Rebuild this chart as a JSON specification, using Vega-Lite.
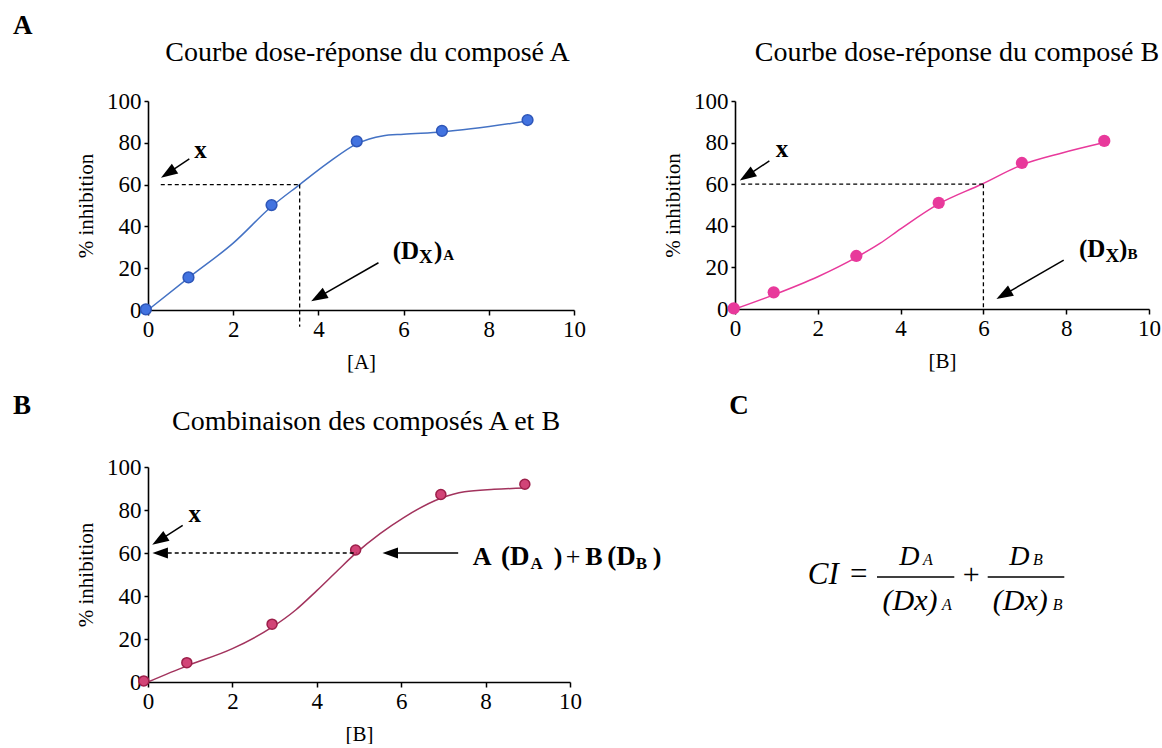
{
  "$schema": "https://vega.github.io/schema/vega-lite/v6.json",
  "background": "white",
  "padding": {"left": 12, "top": 12, "right": 0, "bottom": 0},
  "datasets": {
    "ptsA": [{"x":-0.05,"y":0.3},{"x":0.95,"y":15.6},{"x":2.9,"y":50.2},{"x":4.9,"y":80.7},{"x":6.9,"y":85.7},{"x":8.91,"y":90.9}],
    "curveA": [{"x":0,"y":0},{"x":0.95,"y":15.4},{"x":2,"y":32},{"x":2.9,"y":49.5},{"x":3.56,"y":60},{"x":4.2,"y":70},{"x":4.9,"y":79.5},{"x":5.5,"y":83.3},{"x":6,"y":84.1},{"x":6.9,"y":85.2},{"x":8.9,"y":90.4}],
    "ptsB": [{"x":-0.03,"y":0.3},{"x":0.935,"y":8},{"x":2.93,"y":25.5},{"x":4.92,"y":51},{"x":6.93,"y":70.2},{"x":8.92,"y":80.8}],
    "curveB": [{"x":0,"y":0},{"x":0.935,"y":6.8},{"x":2,"y":15.5},{"x":2.93,"y":24.8},{"x":3.5,"y":31.5},{"x":4,"y":38.5},{"x":4.92,"y":50.5},{"x":5.96,"y":60},{"x":6.93,"y":69.3},{"x":7.9,"y":75},{"x":8.92,"y":80}],
    "ptsC": [{"x":-0.1,"y":0.5},{"x":0.92,"y":9},{"x":2.94,"y":26.9},{"x":4.92,"y":61.4},{"x":6.94,"y":87.2},{"x":8.93,"y":92}],
    "curveC": [{"x":0,"y":0},{"x":0.92,"y":7.5},{"x":2,"y":15.5},{"x":2.94,"y":25.5},{"x":3.5,"y":33.5},{"x":4,"y":42.5},{"x":4.5,"y":52},{"x":4.92,"y":59.8},{"x":5.5,"y":69},{"x":6.06,"y":76.5},{"x":6.94,"y":85.5},{"x":7.5,"y":88.5},{"x":8.2,"y":89.6},{"x":8.93,"y":90.2}]
  },
  "config": {
    "view": {"stroke": null},
    "font": "Liberation Serif",
    "text": {"font": "Liberation Serif", "color": "black", "align": "left", "baseline": "alphabetic"},
    "axis": {"labelFont": "Liberation Serif", "labelFontSize": 23, "labelColor": "black", "titleFont": "Liberation Serif", "titleFontSize": 21, "titleFontWeight": "normal", "titleColor": "black", "domainColor": "black", "domainWidth": 1.6, "tickColor": "black", "tickWidth": 1.5, "grid": false},
    "axisX": {"tickSize": 5, "labelPadding": 3, "titlePadding": 10, "labelFlush": false},
    "axisY": {"tickSize": 4, "labelPadding": 3, "titlePadding": 10, "labelFlush": false}
  },
  "bounds": "flush",
  "spacing": 366,
  "vconcat": [
    {
      "bounds": "flush",
      "spacing": 161,
      "hconcat": [
        {
          "width": 426, "height": 209,
          "layer": [
            {"data": {"name": "curveA"}, "mark": {"type": "line", "interpolate": "monotone", "color": "#4472C4", "strokeWidth": 1.5},
             "encoding": {"x": {"field": "x", "type": "quantitative", "scale": {"domain": [0, 10], "nice": false, "zero": false}, "axis": {"values": [0,2,4,6,8,10], "title": "[A]", "labelFont": "Liberation Serif", "labelFontSize": 23, "titleFont": "Liberation Serif", "titleFontSize": 21}},
                          "y": {"field": "y", "type": "quantitative", "scale": {"domain": [0, 100], "nice": false, "zero": false}, "axis": {"values": [0,20,40,60,80,100], "title": "% inhibition", "labelFont": "Liberation Serif", "labelFontSize": 23, "titleFont": "Liberation Serif", "titleFontSize": 21}}}},
            {"data": {"name": "ptsA"}, "mark": {"type": "point", "filled": true, "color": "#4273E0", "stroke": "#2E56B8", "strokeWidth": 1.5, "size": 115, "opacity": 1},
             "encoding": {"x": {"field": "x", "type": "quantitative"}, "y": {"field": "y", "type": "quantitative"}}},
            {"data": {"values": [{}]}, "mark": {"type": "rule", "color": "black", "strokeWidth": 1.3, "strokeDash": [4, 3]},
             "encoding": {"x": {"datum": 0.3, "type": "quantitative"}, "x2": {"datum": 3.56}, "y": {"datum": 60, "type": "quantitative"}}},
            {"data": {"values": [{}]}, "mark": {"type": "rule", "color": "black", "strokeWidth": 1.3, "strokeDash": [4, 3]},
             "encoding": {"x": {"datum": 3.56, "type": "quantitative"}, "y": {"datum": 60, "type": "quantitative"}, "y2": {"datum": -8}}},
            {"data": {"values": [{}]}, "mark": {"type": "rule", "color": "black", "strokeWidth": 1.5},
             "encoding": {"x": {"datum": 0.97, "type": "quantitative"}, "y": {"datum": 72.3, "type": "quantitative"}, "x2": {"datum": 0.47}, "y2": {"datum": 65.5}}},
            {"data": {"values": [{}]}, "mark": {"type": "point", "shape": "M0,-1L0.7,1L-0.7,1Z", "filled": true, "color": "black", "opacity": 1, "size": 280, "angle": 237},
             "encoding": {"x": {"datum": 0.47, "type": "quantitative"}, "y": {"datum": 65.5, "type": "quantitative"}}},
            {"data": {"values": [{}]}, "mark": {"type": "text", "text": "x", "font": "Liberation Serif", "fontSize": 25, "fontWeight": "bold", "align": "center", "baseline": "alphabetic", "color": "black"},
             "encoding": {"x": {"datum": 1.23, "type": "quantitative"}, "y": {"datum": 72.8, "type": "quantitative"}}},
            {"data": {"values": [{}]}, "mark": {"type": "rule", "color": "black", "strokeWidth": 1.5},
             "encoding": {"x": {"datum": 5.41, "type": "quantitative"}, "y": {"datum": 22.6, "type": "quantitative"}, "x2": {"datum": 4.0}, "y2": {"datum": 6.2}}},
            {"data": {"values": [{}]}, "mark": {"type": "point", "shape": "M0,-1L0.7,1L-0.7,1Z", "filled": true, "color": "black", "opacity": 1, "size": 280, "angle": 240},
             "encoding": {"x": {"datum": 4.0, "type": "quantitative"}, "y": {"datum": 6.2, "type": "quantitative"}}},
            {"data": {"values": [{}]}, "mark": {"type": "text", "text": "(D", "font": "Liberation Serif", "fontSize": 25, "fontWeight": "bold", "align": "left", "baseline": "alphabetic", "color": "black"},
             "encoding": {"x": {"datum": 5.744, "type": "quantitative"}, "y": {"datum": 24.55, "type": "quantitative"}}},
            {"data": {"values": [{}]}, "mark": {"type": "text", "text": "X", "font": "Liberation Serif", "fontSize": 19, "fontWeight": "bold", "align": "left", "baseline": "alphabetic", "color": "black"},
             "encoding": {"x": {"datum": 6.362, "type": "quantitative"}, "y": {"datum": 22.63, "type": "quantitative"}}},
            {"data": {"values": [{}]}, "mark": {"type": "text", "text": ")", "font": "Liberation Serif", "fontSize": 25, "fontWeight": "bold", "align": "left", "baseline": "alphabetic", "color": "black"},
             "encoding": {"x": {"datum": 6.714, "type": "quantitative"}, "y": {"datum": 24.55, "type": "quantitative"}}},
            {"data": {"values": [{}]}, "mark": {"type": "text", "text": "A", "font": "Liberation Serif", "fontSize": 15, "fontWeight": "bold", "align": "left", "baseline": "alphabetic", "color": "black"},
             "encoding": {"x": {"datum": 6.93, "type": "quantitative"}, "y": {"datum": 23.7, "type": "quantitative"}}},
            {"data": {"values": [{}]}, "mark": {"type": "text", "text": "A", "font": "Liberation Serif", "fontSize": 27, "fontWeight": "bold", "align": "left", "baseline": "alphabetic", "color": "black"},
             "encoding": {"x": {"datum": -3.17, "type": "quantitative"}, "y": {"datum": 132, "type": "quantitative"}}},
            {"data": {"values": [{}]}, "mark": {"type": "text", "text": "Courbe dose-réponse du composé A", "font": "Liberation Serif", "fontSize": 28, "align": "center", "baseline": "alphabetic", "color": "black"},
             "encoding": {"x": {"datum": 5.153, "type": "quantitative"}, "y": {"datum": 119.1, "type": "quantitative"}}}
          ]
        },
        {
          "width": 414, "height": 208,
          "layer": [
            {"data": {"name": "curveB"}, "mark": {"type": "line", "interpolate": "monotone", "color": "#E8399B", "strokeWidth": 1.5},
             "encoding": {"x": {"field": "x", "type": "quantitative", "scale": {"domain": [0, 10], "nice": false, "zero": false}, "axis": {"values": [0,2,4,6,8,10], "title": "[B]", "labelFont": "Liberation Serif", "labelFontSize": 23, "titleFont": "Liberation Serif", "titleFontSize": 21}},
                          "y": {"field": "y", "type": "quantitative", "scale": {"domain": [0, 100], "nice": false, "zero": false}, "axis": {"values": [0,20,40,60,80,100], "title": "% inhibition", "labelFont": "Liberation Serif", "labelFontSize": 23, "titleFont": "Liberation Serif", "titleFontSize": 21}}}},
            {"data": {"name": "ptsB"}, "mark": {"type": "point", "filled": true, "color": "#E8399B", "size": 150, "opacity": 1},
             "encoding": {"x": {"field": "x", "type": "quantitative"}, "y": {"field": "y", "type": "quantitative"}}},
            {"data": {"values": [{}]}, "mark": {"type": "rule", "color": "black", "strokeWidth": 1.3, "strokeDash": [4, 3]},
             "encoding": {"x": {"datum": 0.15, "type": "quantitative"}, "x2": {"datum": 6}, "y": {"datum": 60, "type": "quantitative"}}},
            {"data": {"values": [{}]}, "mark": {"type": "rule", "color": "black", "strokeWidth": 1.3, "strokeDash": [4, 3]},
             "encoding": {"x": {"datum": 6, "type": "quantitative"}, "y": {"datum": 60, "type": "quantitative"}, "y2": {"datum": 0}}},
            {"data": {"values": [{}]}, "mark": {"type": "rule", "color": "black", "strokeWidth": 1.5},
             "encoding": {"x": {"datum": 0.83, "type": "quantitative"}, "y": {"datum": 71.2, "type": "quantitative"}, "x2": {"datum": 0.285}, "y2": {"datum": 64}}},
            {"data": {"values": [{}]}, "mark": {"type": "point", "shape": "M0,-1L0.7,1L-0.7,1Z", "filled": true, "color": "black", "opacity": 1, "size": 280, "angle": 237},
             "encoding": {"x": {"datum": 0.285, "type": "quantitative"}, "y": {"datum": 64, "type": "quantitative"}}},
            {"data": {"values": [{}]}, "mark": {"type": "text", "text": "x", "font": "Liberation Serif", "fontSize": 25, "fontWeight": "bold", "align": "center", "baseline": "alphabetic", "color": "black"},
             "encoding": {"x": {"datum": 1.135, "type": "quantitative"}, "y": {"datum": 72.9, "type": "quantitative"}}},
            {"data": {"values": [{}]}, "mark": {"type": "rule", "color": "black", "strokeWidth": 1.5},
             "encoding": {"x": {"datum": 7.94, "type": "quantitative"}, "y": {"datum": 23.5, "type": "quantitative"}, "x2": {"datum": 6.49}, "y2": {"datum": 6.8}}},
            {"data": {"values": [{}]}, "mark": {"type": "point", "shape": "M0,-1L0.7,1L-0.7,1Z", "filled": true, "color": "black", "opacity": 1, "size": 280, "angle": 240},
             "encoding": {"x": {"datum": 6.49, "type": "quantitative"}, "y": {"datum": 6.8, "type": "quantitative"}}},
            {"data": {"values": [{}]}, "mark": {"type": "text", "text": "(D", "font": "Liberation Serif", "fontSize": 25, "fontWeight": "bold", "align": "left", "baseline": "alphabetic", "color": "black"},
             "encoding": {"x": {"datum": 8.31, "type": "quantitative"}, "y": {"datum": 24.8, "type": "quantitative"}}},
            {"data": {"values": [{}]}, "mark": {"type": "text", "text": "X", "font": "Liberation Serif", "fontSize": 19, "fontWeight": "bold", "align": "left", "baseline": "alphabetic", "color": "black"},
             "encoding": {"x": {"datum": 8.947, "type": "quantitative"}, "y": {"datum": 22.4, "type": "quantitative"}}},
            {"data": {"values": [{}]}, "mark": {"type": "text", "text": ")", "font": "Liberation Serif", "fontSize": 25, "fontWeight": "bold", "align": "left", "baseline": "alphabetic", "color": "black"},
             "encoding": {"x": {"datum": 9.278, "type": "quantitative"}, "y": {"datum": 24.8, "type": "quantitative"}}},
            {"data": {"values": [{}]}, "mark": {"type": "text", "text": "B", "font": "Liberation Serif", "fontSize": 15, "fontWeight": "bold", "align": "left", "baseline": "alphabetic", "color": "black"},
             "encoding": {"x": {"datum": 9.478, "type": "quantitative"}, "y": {"datum": 24.0, "type": "quantitative"}}},
            {"data": {"values": [{}]}, "mark": {"type": "text", "text": "Courbe dose-réponse du composé B", "font": "Liberation Serif", "fontSize": 28, "align": "center", "baseline": "alphabetic", "color": "black"},
             "encoding": {"x": {"datum": 5.362, "type": "quantitative"}, "y": {"datum": 119.4, "type": "quantitative"}}}
          ]
        }
      ]
    },
    {
      "bounds": "flush",
      "spacing": 165,
      "hconcat": [
        {
          "width": 422, "height": 215,
          "layer": [
            {"data": {"name": "curveC"}, "mark": {"type": "line", "interpolate": "monotone", "color": "#A2335D", "strokeWidth": 1.5},
             "encoding": {"x": {"field": "x", "type": "quantitative", "scale": {"domain": [0, 10], "nice": false, "zero": false}, "axis": {"values": [0,2,4,6,8,10], "title": "[B]", "labelFont": "Liberation Serif", "labelFontSize": 23, "titleFont": "Liberation Serif", "titleFontSize": 21}},
                          "y": {"field": "y", "type": "quantitative", "scale": {"domain": [0, 100], "nice": false, "zero": false}, "axis": {"values": [0,20,40,60,80,100], "title": "% inhibition", "labelFont": "Liberation Serif", "labelFontSize": 23, "titleFont": "Liberation Serif", "titleFontSize": 21}}}},
            {"data": {"name": "ptsC"}, "mark": {"type": "point", "filled": true, "color": "#D24477", "stroke": "#9C1F4A", "strokeWidth": 1.5, "size": 100, "opacity": 1},
             "encoding": {"x": {"field": "x", "type": "quantitative"}, "y": {"field": "y", "type": "quantitative"}}},
            {"data": {"values": [{}]}, "mark": {"type": "rule", "color": "black", "strokeWidth": 1.3, "strokeDash": [4, 3]},
             "encoding": {"x": {"datum": 0.467, "type": "quantitative"}, "x2": {"datum": 4.95}, "y": {"datum": 60, "type": "quantitative"}}},
            {"data": {"values": [{}]}, "mark": {"type": "point", "shape": "M0,-1L0.7,1L-0.7,1Z", "filled": true, "color": "black", "opacity": 1, "size": 240, "angle": 270},
             "encoding": {"x": {"datum": 0.289, "type": "quantitative"}, "y": {"datum": 60, "type": "quantitative"}}},
            {"data": {"values": [{}]}, "mark": {"type": "rule", "color": "black", "strokeWidth": 1.5},
             "encoding": {"x": {"datum": 0.822, "type": "quantitative"}, "y": {"datum": 72.9, "type": "quantitative"}, "x2": {"datum": 0.268}, "y2": {"datum": 65.9}}},
            {"data": {"values": [{}]}, "mark": {"type": "point", "shape": "M0,-1L0.7,1L-0.7,1Z", "filled": true, "color": "black", "opacity": 1, "size": 280, "angle": 238},
             "encoding": {"x": {"datum": 0.268, "type": "quantitative"}, "y": {"datum": 65.9, "type": "quantitative"}}},
            {"data": {"values": [{}]}, "mark": {"type": "text", "text": "x", "font": "Liberation Serif", "fontSize": 25, "fontWeight": "bold", "align": "center", "baseline": "alphabetic", "color": "black"},
             "encoding": {"x": {"datum": 1.11, "type": "quantitative"}, "y": {"datum": 74.4, "type": "quantitative"}}},
            {"data": {"values": [{}]}, "mark": {"type": "rule", "color": "black", "strokeWidth": 1.5},
             "encoding": {"x": {"datum": 7.35, "type": "quantitative"}, "y": {"datum": 60, "type": "quantitative"}, "x2": {"datum": 5.74}}},
            {"data": {"values": [{}]}, "mark": {"type": "point", "shape": "M0,-1L0.7,1L-0.7,1Z", "filled": true, "color": "black", "opacity": 1, "size": 240, "angle": 270},
             "encoding": {"x": {"datum": 5.74, "type": "quantitative"}, "y": {"datum": 60, "type": "quantitative"}}},
            {"data": {"values": [{}]}, "mark": {"type": "text", "text": "A", "font": "Liberation Serif", "fontSize": 26, "fontWeight": "bold", "align": "left", "baseline": "alphabetic", "color": "black"},
             "encoding": {"x": {"datum": 7.695, "type": "quantitative"}, "y": {"datum": 54.3, "type": "quantitative"}}},
            {"data": {"values": [{}]}, "mark": {"type": "text", "text": "(D", "font": "Liberation Serif", "fontSize": 27, "fontWeight": "bold", "align": "left", "baseline": "alphabetic", "color": "black"},
             "encoding": {"x": {"datum": 8.365, "type": "quantitative"}, "y": {"datum": 54.3, "type": "quantitative"}}},
            {"data": {"values": [{}]}, "mark": {"type": "text", "text": "A", "font": "Liberation Serif", "fontSize": 17, "fontWeight": "bold", "align": "left", "baseline": "alphabetic", "color": "black"},
             "encoding": {"x": {"datum": 9.064, "type": "quantitative"}, "y": {"datum": 52.7, "type": "quantitative"}}},
            {"data": {"values": [{}]}, "mark": {"type": "text", "text": ")", "font": "Liberation Serif", "fontSize": 26, "fontWeight": "bold", "align": "left", "baseline": "alphabetic", "color": "black"},
             "encoding": {"x": {"datum": 9.614, "type": "quantitative"}, "y": {"datum": 54.3, "type": "quantitative"}}},
            {"data": {"values": [{}]}, "mark": {"type": "text", "text": "+", "font": "Liberation Serif", "fontSize": 26, "align": "left", "baseline": "alphabetic", "color": "black"},
             "encoding": {"x": {"datum": 9.9, "type": "quantitative"}, "y": {"datum": 54.3, "type": "quantitative"}}},
            {"data": {"values": [{}]}, "mark": {"type": "text", "text": "B", "font": "Liberation Serif", "fontSize": 26, "fontWeight": "bold", "align": "left", "baseline": "alphabetic", "color": "black"},
             "encoding": {"x": {"datum": 10.36, "type": "quantitative"}, "y": {"datum": 54.3, "type": "quantitative"}}},
            {"data": {"values": [{}]}, "mark": {"type": "text", "text": "(D", "font": "Liberation Serif", "fontSize": 27, "fontWeight": "bold", "align": "left", "baseline": "alphabetic", "color": "black"},
             "encoding": {"x": {"datum": 10.88, "type": "quantitative"}, "y": {"datum": 54.3, "type": "quantitative"}}},
            {"data": {"values": [{}]}, "mark": {"type": "text", "text": "B", "font": "Liberation Serif", "fontSize": 17, "fontWeight": "bold", "align": "left", "baseline": "alphabetic", "color": "black"},
             "encoding": {"x": {"datum": 11.56, "type": "quantitative"}, "y": {"datum": 52.7, "type": "quantitative"}}},
            {"data": {"values": [{}]}, "mark": {"type": "text", "text": ")", "font": "Liberation Serif", "fontSize": 26, "fontWeight": "bold", "align": "left", "baseline": "alphabetic", "color": "black"},
             "encoding": {"x": {"datum": 11.96, "type": "quantitative"}, "y": {"datum": 54.3, "type": "quantitative"}}},
            {"data": {"values": [{}]}, "mark": {"type": "text", "text": "B", "font": "Liberation Serif", "fontSize": 27, "fontWeight": "bold", "align": "left", "baseline": "alphabetic", "color": "black"},
             "encoding": {"x": {"datum": -3.2, "type": "quantitative"}, "y": {"datum": 124.8, "type": "quantitative"}}},
            {"data": {"values": [{}]}, "mark": {"type": "text", "text": "Combinaison des composés A et B", "font": "Liberation Serif", "fontSize": 28, "align": "center", "baseline": "alphabetic", "color": "black"},
             "encoding": {"x": {"datum": 5.166, "type": "quantitative"}, "y": {"datum": 117.1, "type": "quantitative"}}}
          ]
        },
        {
          "width": 414, "height": 215,
          "layer": [
            {"data": {"values": [{}]}, "mark": {"type": "text", "text": "C", "font": "Liberation Serif", "fontSize": 27, "fontWeight": "bold", "align": "left", "baseline": "alphabetic", "color": "black"},
             "encoding": {"x": {"datum": -0.138, "type": "quantitative", "scale": {"domain": [0, 10], "nice": false, "zero": false}, "axis": null}, "y": {"datum": 124.8, "type": "quantitative", "scale": {"domain": [0, 100], "nice": false, "zero": false}, "axis": null}}},
            {"data": {"values": [{}]}, "mark": {"type": "text", "text": "CI", "font": "Liberation Serif", "fontSize": 31, "fontStyle": "italic", "align": "left", "baseline": "alphabetic", "color": "black"},
             "encoding": {"x": {"datum": 1.756, "type": "quantitative", "axis": null}, "y": {"datum": 45.44, "type": "quantitative", "axis": null}}},
            {"data": {"values": [{}]}, "mark": {"type": "text", "text": "=", "font": "Liberation Serif", "fontSize": 31, "align": "left", "baseline": "alphabetic", "color": "black"},
             "encoding": {"x": {"datum": 2.78, "type": "quantitative", "axis": null}, "y": {"datum": 45.44, "type": "quantitative", "axis": null}}},
            {"data": {"values": [{}]}, "mark": {"type": "rule", "color": "black", "strokeWidth": 1.3},
             "encoding": {"x": {"datum": 3.43, "type": "quantitative", "axis": null}, "x2": {"datum": 5.297}, "y": {"datum": 48.84, "type": "quantitative", "axis": null}}},
            {"data": {"values": [{}]}, "mark": {"type": "text", "text": "D", "font": "Liberation Serif", "fontSize": 28, "fontStyle": "italic", "align": "left", "baseline": "alphabetic", "color": "black"},
             "encoding": {"x": {"datum": 3.969, "type": "quantitative", "axis": null}, "y": {"datum": 54.28, "type": "quantitative", "axis": null}}},
            {"data": {"values": [{}]}, "mark": {"type": "text", "text": "A", "font": "Liberation Serif", "fontSize": 16, "fontStyle": "italic", "align": "left", "baseline": "alphabetic", "color": "black"},
             "encoding": {"x": {"datum": 4.541, "type": "quantitative", "axis": null}, "y": {"datum": 54.28, "type": "quantitative", "axis": null}}},
            {"data": {"values": [{}]}, "mark": {"type": "text", "text": "(Dx)", "font": "Liberation Serif", "fontSize": 30, "fontStyle": "italic", "align": "center", "baseline": "alphabetic", "color": "black"},
             "encoding": {"x": {"datum": 4.227, "type": "quantitative", "axis": null}, "y": {"datum": 33.35, "type": "quantitative", "axis": null}}},
            {"data": {"values": [{}]}, "mark": {"type": "text", "text": "A", "font": "Liberation Serif", "fontSize": 16, "fontStyle": "italic", "align": "left", "baseline": "alphabetic", "color": "black"},
             "encoding": {"x": {"datum": 5.0, "type": "quantitative", "axis": null}, "y": {"datum": 33.35, "type": "quantitative", "axis": null}}},
            {"data": {"values": [{}]}, "mark": {"type": "text", "text": "+", "font": "Liberation Serif", "fontSize": 30, "align": "left", "baseline": "alphabetic", "color": "black"},
             "encoding": {"x": {"datum": 5.5, "type": "quantitative", "axis": null}, "y": {"datum": 45.44, "type": "quantitative", "axis": null}}},
            {"data": {"values": [{}]}, "mark": {"type": "rule", "color": "black", "strokeWidth": 1.3},
             "encoding": {"x": {"datum": 6.104, "type": "quantitative", "axis": null}, "x2": {"datum": 7.954}, "y": {"datum": 48.84, "type": "quantitative", "axis": null}}},
            {"data": {"values": [{}]}, "mark": {"type": "text", "text": "D", "font": "Liberation Serif", "fontSize": 28, "fontStyle": "italic", "align": "left", "baseline": "alphabetic", "color": "black"},
             "encoding": {"x": {"datum": 6.626, "type": "quantitative", "axis": null}, "y": {"datum": 54.28, "type": "quantitative", "axis": null}}},
            {"data": {"values": [{}]}, "mark": {"type": "text", "text": "B", "font": "Liberation Serif", "fontSize": 16, "fontStyle": "italic", "align": "left", "baseline": "alphabetic", "color": "black"},
             "encoding": {"x": {"datum": 7.198, "type": "quantitative", "axis": null}, "y": {"datum": 54.28, "type": "quantitative", "axis": null}}},
            {"data": {"values": [{}]}, "mark": {"type": "text", "text": "(Dx)", "font": "Liberation Serif", "fontSize": 30, "fontStyle": "italic", "align": "center", "baseline": "alphabetic", "color": "black"},
             "encoding": {"x": {"datum": 6.889, "type": "quantitative", "axis": null}, "y": {"datum": 33.35, "type": "quantitative", "axis": null}}},
            {"data": {"values": [{}]}, "mark": {"type": "text", "text": "B", "font": "Liberation Serif", "fontSize": 16, "fontStyle": "italic", "align": "left", "baseline": "alphabetic", "color": "black"},
             "encoding": {"x": {"datum": 7.674, "type": "quantitative", "axis": null}, "y": {"datum": 33.35, "type": "quantitative", "axis": null}}}
          ]
        }
      ]
    }
  ]
}
